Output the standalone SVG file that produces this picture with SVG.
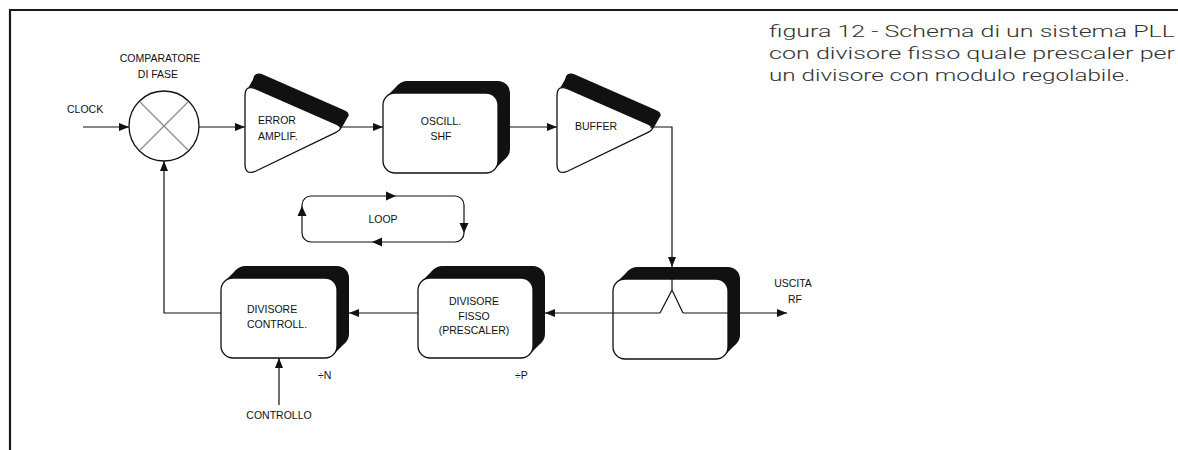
<svg xmlns="http://www.w3.org/2000/svg" width="1178" height="450" viewBox="0 0 1178 450">
  <style>
    .t { font-family: "Liberation Sans", Arial, sans-serif; font-size: 10.5px; fill: #111; }
    .tm { text-anchor: middle; }
    .c { font-family: Roboto, "Liberation Sans", Arial, sans-serif; font-weight: 300; font-size: 17px; fill: #333; }
    .box { fill: #fff; stroke: #111; stroke-width: 1.3; }
    .sh { fill: #111; stroke: none; }
    .ln { fill: none; stroke: #111; stroke-width: 1.2; }
    .arr { fill: none; stroke: #111; stroke-width: 1.2; marker-end: url(#ah); }
    .ah { fill: #111; }
    .frame { fill: none; stroke: #1a1a1a; stroke-width: 2.2; }
  </style>
  <defs>
    <marker id="ah" viewBox="0 0 10 8" refX="10" refY="4" markerWidth="10" markerHeight="9" markerUnits="userSpaceOnUse" orient="auto">
      <path d="M0,0 L10,4 L0,8 Z" fill="#111"/>
    </marker>
    <path id="tri" d="M245,96 Q245,84 256,89 L335.8,124 Q345,128 336,132.3 L256,171 Q245,176 245,164 Z"/>
  </defs>

  <rect width="1178" height="450" fill="#fff"/>
  <path class="frame" d="M10,450 V10 H1178"/>

  <!-- Caption -->
  <g id="caption">
    <text class="c" x="769" y="37" textLength="406" lengthAdjust="spacingAndGlyphs">figura 12 - Schema di un sistema PLL</text>
    <text class="c" x="769" y="59" textLength="406" lengthAdjust="spacingAndGlyphs">con divisore fisso quale prescaler per</text>
    <text class="c" x="769" y="81" textLength="361" lengthAdjust="spacingAndGlyphs">un divisore con modulo regolabile.</text>
  </g>

  <!-- Phase comparator -->
  <g id="comparatore">
    <circle cx="164" cy="126" r="35" class="box"/>
    <path d="M140,102 L188,150 M140,150 L188,102" stroke="#888" stroke-width="1.2" fill="none"/>
    <text class="t tm" x="160" y="62">COMPARATORE</text>
    <text class="t tm" x="158" y="78">DI  FASE</text>
  </g>

  <!-- Error amplifier -->
  <g id="error-amplif">
    <use href="#tri" class="sh" transform="translate(8,-14)"/>
    <polygon class="sh" points="247,90 255,76 349,115 341,129"/>
    <use href="#tri" class="box"/>
    <text class="t" x="258" y="124">ERROR</text>
    <text class="t" x="258" y="140">AMPLIF.</text>
  </g>

  <!-- Oscillator SHF -->
  <g id="oscill-shf">
    <rect class="sh" x="395" y="81" width="115" height="80" rx="12"/>
    <polygon class="sh" points="386.5,96.5 398.5,84.5 506.5,157.5 494.5,169.5"/>
    <rect class="box" x="383" y="93" width="115" height="80" rx="12"/>
    <text class="t tm" x="441" y="125">OSCILL.</text>
    <text class="t tm" x="441" y="140">SHF</text>
  </g>

  <!-- Buffer -->
  <g id="buffer" transform="translate(312,0)">
    <use href="#tri" class="sh" transform="translate(8,-14)"/>
    <polygon class="sh" points="247,90 255,76 349,115 341,129"/>
    <use href="#tri" class="box"/>
    <text class="t" x="263" y="130">BUFFER</text>
  </g>

  <!-- Splitter -->
  <g id="splitter">
    <rect class="sh" x="625" y="267" width="115" height="80" rx="12"/>
    <polygon class="sh" points="616.5,282.5 628.5,270.5 736.5,343.5 724.5,355.5"/>
    <rect class="box" x="613" y="279" width="115" height="80" rx="12"/>
  </g>

  <!-- Divisore fisso -->
  <g id="divisore-fisso">
    <rect class="sh" x="430" y="266" width="115" height="80" rx="12"/>
    <polygon class="sh" points="421.5,281.5 433.5,269.5 541.5,342.5 529.5,354.5"/>
    <rect class="box" x="418" y="278" width="115" height="80" rx="12"/>
    <text class="t tm" x="474" y="305">DIVISORE</text>
    <text class="t tm" x="474" y="319.5">FISSO</text>
    <text class="t tm" x="474" y="334">(PRESCALER)</text>
    <text class="t" x="515" y="379">÷P</text>
  </g>

  <!-- Divisore controllato -->
  <g id="divisore-controll">
    <rect class="sh" x="233" y="266" width="116" height="80" rx="12"/>
    <polygon class="sh" points="224.5,281.5 236.5,269.5 345.5,342.5 333.5,354.5"/>
    <rect class="box" x="221" y="278" width="116" height="80" rx="12"/>
    <text class="t" x="247" y="313">DIVISORE</text>
    <text class="t" x="247" y="328">CONTROLL.</text>
    <text class="t" x="318" y="379">÷N</text>
  </g>

  <!-- Loop indicator -->
  <g id="loop">
    <rect x="302" y="196" width="162" height="46" rx="9" class="ln"/>
    <polygon class="ah" points="396,196 386,191.5 386,200.5"/>
    <polygon class="ah" points="464,233 459.5,223 468.5,223"/>
    <polygon class="ah" points="372,242 382,237.5 382,246.5"/>
    <polygon class="ah" points="302,206 297.5,216 306.5,216"/>
    <text class="t tm" x="383" y="222.5">LOOP</text>
  </g>

  <!-- Labels -->
  <g id="labels">
    <text class="t" x="67" y="113">CLOCK</text>
    <text class="t tm" x="793" y="287">USCITA</text>
    <text class="t tm" x="795" y="303">RF</text>
    <text class="t tm" x="279" y="419">CONTROLLO</text>
  </g>

  <!-- Connectors -->
  <g id="connectors">
    <path class="arr" d="M83,127 H129"/>
    <path class="arr" d="M199,127 H245"/>
    <path class="arr" d="M340,127 H383"/>
    <path class="arr" d="M498,127 H557"/>
    <path class="arr" d="M650,127 H672 V267"/>
    <path class="ln" d="M672,279 V290 L660,313 M672,290 L683,313"/>
    <path class="arr" d="M660,313 H545"/>
    <path class="arr" d="M683,313 H787"/>
    <path class="arr" d="M418,313 H349"/>
    <path class="arr" d="M221,313 H164 V161"/>
    <path class="arr" d="M279,405 V358"/>
  </g>
</svg>
